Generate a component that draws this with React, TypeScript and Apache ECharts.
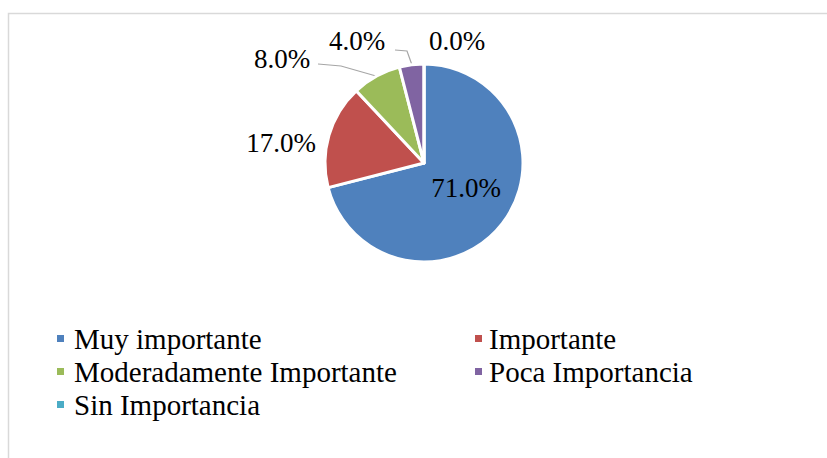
import React, { useEffect, useRef } from "react";
import * as echarts from "echarts";

const categories = [
  "Muy importante",
  "Importante",
  "Moderadamente Importante",
  "Poca Importancia",
  "Sin Importancia",
];
const values = [71, 17, 8, 4, 0];
const colors = ["#4F81BD", "#C0504D", "#9BBB59", "#8064A2", "#4BACC6"];

// label placement (layout only)
const labelPos: [number, number][] = [
  [466, 188],
  [281, 143],
  [282, 59],
  [357, 41],
  [457, 41],
];
const labelLines: ([number, number][] | null)[] = [
  null,
  null,
  [[376, 76], [341, 66], [318, 64]],
  [[412, 65], [407, 51], [395, 50]],
  null,
];

const FONT = "Liberation Serif";

export default function App() {
  const ref = useRef<HTMLDivElement>(null);
  useEffect(() => {
    if (!ref.current) return;
    const chart = echarts.init(ref.current, null, { renderer: "svg" });
    const legendText = (pad: number) => ({
      fontFamily: FONT,
      fontSize: 29,
      color: "#000",
      lineHeight: 33,
      padding: [0, 0, 0, pad],
    });
    chart.setOption({
      animation: false,
      backgroundColor: "#fff",
      color: colors,
      graphic: [
        {
          type: "rect",
          shape: { x: 8.5, y: 13.5, width: 900, height: 600 },
          style: { fill: "none", stroke: "#d9d9d9", lineWidth: 1.5 },
          z: -1,
        },
      ],
      legend: [
        {
          orient: "vertical",
          left: 50,
          top: 317,
          itemWidth: 9,
          itemHeight: 9,
          itemGap: 0,
          icon: "rect",
          data: [categories[0], categories[2], categories[4]],
          textStyle: legendText(4),
        },
        {
          orient: "vertical",
          left: 468,
          top: 317,
          itemWidth: 9,
          itemHeight: 9,
          itemGap: 0,
          icon: "rect",
          data: [categories[1], categories[3]],
          textStyle: legendText(1),
        },
      ],
      series: [
        {
          type: "pie",
          center: [424, 163],
          radius: 99,
          startAngle: 90,
          clockwise: true,
          avoidLabelOverlap: false,
          itemStyle: { borderColor: "#fff", borderWidth: 3 },
          label: {
            show: true,
            position: "outside",
            fontFamily: FONT,
            fontSize: 27,
            color: "#000",
            formatter: (p: any) => `${Number(p.value).toFixed(1)}%`,
          },
          labelLine: {
            show: true,
            lineStyle: { color: "#a6a6a6", width: 1.2 },
          },
          labelLayout: (params: any) => {
            const i = params.dataIndex;
            const out: any = {
              x: labelPos[i][0],
              y: labelPos[i][1],
              align: "center",
              verticalAlign: "middle",
            };
            if (labelLines[i]) out.labelLinePoints = labelLines[i];
            return out;
          },
          data: categories.map((name, i) => ({
            name,
            value: values[i],
            labelLine: { show: labelLines[i] !== null },
          })),
        },
      ],
    });
    return () => chart.dispose();
  }, []);
  return (
    <div
      ref={ref}
      style={{ position: "absolute", left: 0, top: 0, width: 827, height: 458 }}
    />
  );
}
